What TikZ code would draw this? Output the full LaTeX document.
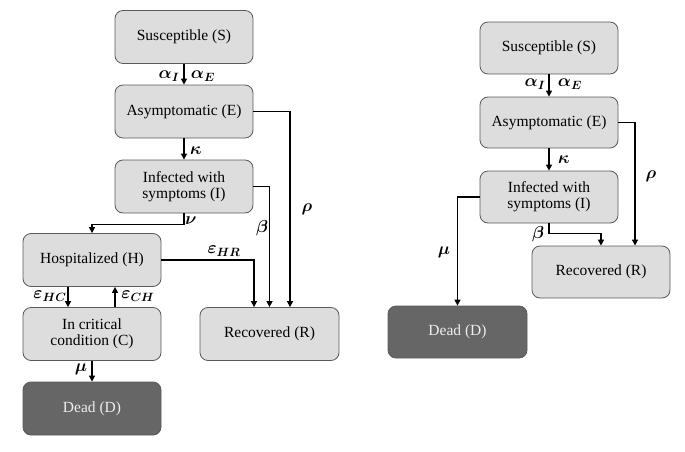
\documentclass[tikz,border=0pt]{standalone}
\usepackage{fontspec}
\setmainfont{Liberation Serif}
\newfontfamily\boxfont{Liberation Serif}
\usetikzlibrary{arrows.meta}
\definecolor{boxfill}{RGB}{221,221,221}
\definecolor{boxline}{RGB}{90,90,90}
\definecolor{deadfill}{RGB}{102,102,102}
\definecolor{deadtext}{RGB}{238,238,238}
\tikzset{
  box/.style={rectangle, rounded corners=8pt, draw=boxline, line width=0.8pt, fill=boxfill,
    minimum width=138pt, minimum height=53pt, inner sep=0pt, align=center,
    font=\boxfont\fontsize{15.5}{16}\selectfont},
  deadbox/.style={box, fill=deadfill, text=deadtext},
  arr/.style={-{Triangle[length=6pt,width=6pt]}, line width=1.4pt},
  lbl/.style={font=\fontsize{17}{18}\selectfont\boldmath, inner sep=0pt}
}
\begin{document}
\begin{tikzpicture}[x=1pt,y=-1pt]
\useasboundingbox (0,0) rectangle (685,452);
% left diagram
\node[box] (S) at (184,37) {Susceptible (S)};
\node[box] (E) at (184,111.5) {Asymptomatic (E)};
\node[box] (I) at (184,186.5) {Infected with\\symptoms (I)};
\node[box] (H) at (92,260) {Hospitalized (H)};
\node[box] (C) at (92,334) {In critical\\condition (C)};
\node[deadbox] (D) at (92,408.5) {Dead (D)};
\node[box, minimum width=139pt] (R) at (269.5,334) {Recovered (R)};

\draw[arr] (S) -- (E);
\draw[arr] (E) -- (I);
\draw[arr] (I.south) -- ++(0,11) -| (H.north);
\draw[arr] (E.east) -| ([xshift=20.5pt]R.north);
\draw[arr] (I.east) -| (R.north);
\draw[arr] (H.east) -| ([xshift=-15.5pt]R.north);
\draw[arr] ([xshift=-24pt]H.south) -- ([xshift=-24pt]C.north);
\draw[arr] ([xshift=23pt]C.north) -- ([xshift=23pt]H.south);
\draw[arr] (C) -- (D);

\node[lbl] (la1) at (169,76) {$\alpha_I$};
\node[lbl] (la2) at (203,76) {$\alpha_E$};
\node[lbl] (lk) at (196,151) {$\kappa$};
\node[lbl] (ln) at (191,221) {$\nu$};
\node[lbl] (lr) at (307,209) {$\rho$};
\node[lbl] (lb) at (262,228) {$\beta$};
\node[lbl] (lhr) at (224,251) {$\varepsilon_{HR}$};
\node[lbl] (lhc) at (50,296) {$\varepsilon_{HC}$};
\node[lbl] (lch) at (138,296) {$\varepsilon_{CH}$};
\node[lbl] (lm) at (81,369) {$\mu$};

% right diagram
\node[box, minimum height=52pt] (S2) at (549,48) {Susceptible (S)};
\node[box, minimum height=51pt] (E2) at (549,122.5) {Asymptomatic (E)};
\node[box, minimum height=52pt] (I2) at (549,197) {Infected with\\symptoms (I)};
\node[box, minimum height=52pt] (R2) at (601,272) {Recovered (R)};
\node[deadbox, minimum height=52pt, minimum width=139pt] (D2) at (457.5,332) {Dead (D)};

\draw[arr] (S2) -- (E2);
\draw[arr] (E2) -- (I2);
\draw[arr] (E2.east) -| ([xshift=34pt]R2.north);
\draw[arr] (I2.west) -| (D2.north);
\draw[arr] (I2.south) -- ++(0,10) -| (R2.north);

\node[lbl] (ra1) at (535,84) {$\alpha_I$};
\node[lbl] (ra2) at (570,84) {$\alpha_E$};
\node[lbl] (rk) at (564,160) {$\kappa$};
\node[lbl] (rr) at (651,176) {$\rho$};
\node[lbl] (rm) at (444,252) {$\mu$};
\node[lbl] (rb) at (538,234) {$\beta$};
\end{tikzpicture}
\end{document}
